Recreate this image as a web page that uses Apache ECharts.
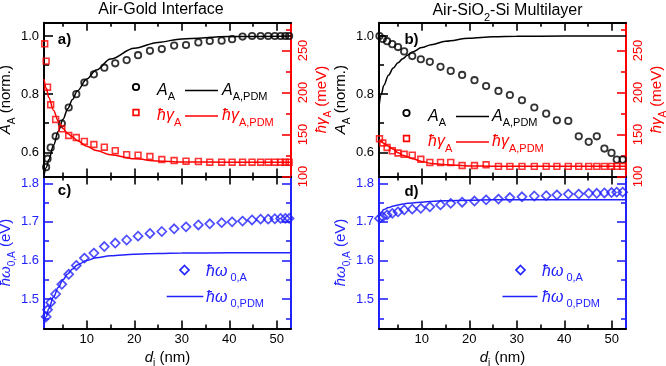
<!DOCTYPE html>
<html><head><meta charset="utf-8">
<script src="https://cdn.jsdelivr.net/npm/echarts@6/dist/echarts.min.js"></script>
<style>html,body{margin:0;padding:0;background:#fff}#c{width:666px;height:366px}</style>
</head><body><div id="c"></div>
<script>
const FONT = '"Liberation Sans", Arial, Helvetica, sans-serif';
const BLACK = '#000000', RED = '#ff0000', BLUE = '#2222ff';

// ---------- data ----------
// Air-Gold interface (panels a, c)
const dGold = [1.15, 1.45, 1.75, 2.4, 3.45, 4.75, 6.2, 7.8, 9.5, 11.5, 13.7, 16.0, 18.4, 20.8, 23.3, 25.8, 28.4, 30.9, 33.5, 35.9, 38.4, 40.6, 42.8, 44.8, 46.6, 48.2, 49.6, 50.8, 51.8, 52.6];
const ampGold = [null, 0.549, 0.578, 0.616, 0.655, 0.699, 0.754, 0.800, 0.840, 0.868, 0.891, 0.906, 0.917, 0.934, 0.949, 0.955, 0.967, 0.969, 0.978, 0.983, 0.984, 0.989, 0.998, 1.0, 1.0, 1.0, 1.0, 1.0, 1.0, 1.0];
const gammaGold = [258, 237.3, 206.3, 185.4, 167.9, 156.8, 148.8, 146.4, 141.7, 138.1, 134.9, 130.7, 126, 125.4, 123.8, 120.2, 119, 118.2, 117.9, 117, 117, 117, 117, 117, 117, 117, 117, 117, 117, 117];
const omegaGold = [null, 1.454, 1.472, 1.491, 1.513, 1.538, 1.564, 1.587, 1.606, 1.619, 1.636, 1.645, 1.653, 1.663, 1.670, 1.675, 1.682, 1.687, 1.692, 1.695, 1.698, 1.700, 1.702, 1.705, 1.707, 1.707, 1.708, 1.709, 1.709, 1.709];

// Air-SiO2-Si multilayer (panels b, d)
const dSi = [1.1, 1.8, 2.7, 3.8, 5.0, 6.3, 8.0, 9.8, 11.7, 13.95, 16.1, 18.5, 21.1, 23.55, 26.15, 28.55, 31.1, 33.7, 36.2, 38.45, 40.85, 43.05, 45.15, 46.85, 48.45, 49.95, 51.05, 52.3];
const ampSi = [1.0, 0.99, 0.982, 0.972, 0.962, 0.947, 0.931, 0.92, 0.911, 0.894, 0.88, 0.866, 0.848, 0.828, 0.811, 0.797, 0.779, 0.754, 0.733, 0.71, 0.708, 0.655, 0.636, 0.655, 0.613, 0.598, 0.575, 0.575];
const gammaSi = [144.9, 139.9, 134.5, 130.6, 128, 126.5, 125.4, 120.5, 116.7, 116.7, 116.7, 113.1, 113.1, 113.9, 112.1, 112.1, 112.1, 112.1, 112.1, 112.1, 112.1, 112.1, 112.1, 112.1, 112.1, 112.1, 112.1, 112.1];
const omegaSi = [1.709, 1.713, 1.718, 1.722, 1.726, 1.731, 1.733, 1.735, 1.739, 1.744, 1.748, 1.751, 1.754, 1.757, 1.759, 1.763, 1.765, 1.767, 1.768, 1.770, 1.772, 1.772, 1.774, 1.774, 1.775, 1.776, 1.777, 1.777];

// PDM model curves
const dPdm = [1, 1.5, 2, 3, 4, 5, 6, 7, 8, 10, 12, 15, 20, 25, 30, 40, 53];
const ampPdmGold = [0.52, 0.548, 0.574, 0.624, 0.672, 0.714, 0.75, 0.782, 0.811, 0.852, 0.883, 0.921, 0.958, 0.978, 0.99, 0.998, 1.0];
const gammaPdmGold = [216, 205, 194, 179, 166, 157, 151, 147, 143, 136, 131, 126, 121, 118.5, 117.3, 117, 117];
const omegaPdmGold = [1.43, 1.455, 1.475, 1.505, 1.53, 1.55, 1.565, 1.578, 1.588, 1.60, 1.607, 1.612, 1.616, 1.618, 1.619, 1.62, 1.62];
const ampPdmSi = [0.758, 0.80, 0.83, 0.865, 0.89, 0.908, 0.922, 0.934, 0.945, 0.96, 0.97, 0.982, 0.992, 0.997, 0.999, 1.0, 1.0];
const gammaPdmSi = [143.5, 141.5, 139.5, 136, 132.3, 128.3, 125.3, 123.5, 121.2, 118, 115.6, 114, 112.6, 112.2, 112.1, 112.1, 112.1];
const omegaPdmSi = [1.716, 1.725, 1.732, 1.737, 1.741, 1.744, 1.746, 1.748, 1.749, 1.751, 1.753, 1.755, 1.756, 1.757, 1.757, 1.757, 1.757];

// ticks
const xTicksMajor = [10, 20, 30, 40, 50];
const xTicksMinor = [5, 15, 25, 35, 45];
const ampTicksMajor = [0.6, 0.8, 1.0];
const ampTicksMinor = [0.7, 0.9];
const gammaTicksMajor = [100, 150, 200, 250];
const gammaTicksMinor = [125, 175, 225, 275];
const omegaTicksMajor = [1.5, 1.6, 1.7, 1.8];
const omegaTicksMinor = [1.45, 1.55, 1.65, 1.75];

const titles = ['Air-Gold Interface', '{n|Air-SiO}{s|2}{n|-Si Multilayer}'];
const panelLabels = ['a)', 'b)', 'c)', 'd)'];

// ---------- helpers ----------
function rich(size, color) {
  const sub = Math.round(size * 0.68);
  const pad = Math.round(size * 0.8);
  return {
    n: { fontSize: size, lineHeight: size, color: color, fontFamily: FONT },
    i: { fontSize: size, lineHeight: size, color: color, fontStyle: 'italic', fontFamily: FONT },
    s: { fontSize: sub, lineHeight: sub, padding: [pad, 0, 0, 0], color: color, fontFamily: FONT }
  };
}
const xAxes = [], yAxes = [];
function addX(o) { xAxes.push(o); return xAxes.length - 1; }
function addY(o) { yAxes.push(o); return yAxes.length - 1; }

function xSet(g, pos, withLabels) {
  const idx = addX({
    type: 'value', gridIndex: g, position: pos, min: 1, max: 53,
    axisLine: { show: true, onZero: false, lineStyle: { color: BLACK, width: 2 } },
    axisTick: { show: true, inside: true, length: 8, customValues: xTicksMajor, lineStyle: { color: BLACK, width: 1.6 } },
    axisLabel: { show: withLabels, customValues: xTicksMajor, margin: 4, color: BLACK, fontSize: 13, fontFamily: FONT },
    splitLine: { show: false },
    name: withLabels ? '{i|d}{s|j}{n| (nm)}' : '',
    nameLocation: 'middle', nameGap: 12,
    nameTextStyle: { rich: rich(15, BLACK) }
  });
  addX({
    type: 'value', gridIndex: g, position: pos, min: 1, max: 53,
    axisLine: { show: false, onZero: false },
    axisTick: { show: true, inside: true, length: 4, customValues: xTicksMinor, lineStyle: { color: BLACK, width: 1.6 } },
    axisLabel: { show: false }, splitLine: { show: false }
  });
  return idx;
}
function ySet(g, pos, min, max, major, minor, color, withLabels, fmt, name, nameGap, rotate, labelMargin) {
  const idx = addY({
    type: 'value', gridIndex: g, position: pos, min: min, max: max,
    axisLine: { show: true, onZero: false, lineStyle: { color: color, width: 2 } },
    axisTick: { show: true, inside: true, length: 9, customValues: major, lineStyle: { color: color, width: 1.6 } },
    axisLabel: { show: withLabels, customValues: major, formatter: fmt, rotate: rotate || 0, margin: labelMargin || 5, color: color, fontSize: 13, fontFamily: FONT },
    splitLine: { show: false },
    name: name || '', nameLocation: 'middle', nameGap: nameGap || 20, nameRotate: 90,
    nameTextStyle: { rich: rich(15, color) }
  });
  addY({
    type: 'value', gridIndex: g, position: pos, min: min, max: max,
    axisLine: { show: false, onZero: false },
    axisTick: { show: true, inside: true, length: 5, customValues: minor, lineStyle: { color: color, width: 1.6 } },
    axisLabel: { show: false }, splitLine: { show: false }
  });
  return idx;
}
const f1 = v => v.toFixed(1);
const f0 = v => String(Math.round(v));
function pairs(xs, ys) { return xs.map((x, i) => [x, ys[i]]).filter(p => p[1] != null); }

const AMP = [0.5168, 1.0457], GAM = [100, 283.1], OME = [1.4235, 1.8176];
const ampName = '{i|A}{s|A}{n| (norm.)}';
const gamName = '{i|ħγ}{s|A}{n| (meV)}';
const omeName = '{i|ħω}{s|0,A}{n| (eV)}';

const grids = [
  { left: 44, top: 22.7, width: 247, height: 153.8 },
  { left: 44, top: 176.5, width: 247, height: 152 },
  { left: 379, top: 22.7, width: 247, height: 153.8 },
  { left: 379, top: 176.5, width: 247, height: 152 }
].map(g => Object.assign({ containLabel: false, outerBoundsMode: 'none' }, g));

const series = [];
const sets = [
  { top: 0, bot: 1, d: dGold, amp: ampGold, gam: gammaGold, ome: omegaGold, aP: ampPdmGold, gP: gammaPdmGold, oP: omegaPdmGold, ln: 21, rn: 16 },
  { top: 2, bot: 3, d: dSi, amp: ampSi, gam: gammaSi, ome: omegaSi, aP: ampPdmSi, gP: gammaPdmSi, oP: omegaPdmSi, ln: 22, rn: 17 }
];
sets.forEach((s, k) => {
  // top panel
  const xb = xSet(s.top, 'bottom', false);
  xSet(s.top, 'top', false);
  const yl = ySet(s.top, 'left', AMP[0], AMP[1], ampTicksMajor, ampTicksMinor, BLACK, true, f1, ampName, s.ln, 0, 5);
  const yr = ySet(s.top, 'right', GAM[0], GAM[1], gammaTicksMajor, gammaTicksMinor, RED, true, f0, gamName, s.rn, 90, 6);
  series.push({ type: 'line', name: 'A_A,PDM ' + k, xAxisIndex: xb, yAxisIndex: yl, data: pairs(dPdm, s.aP), symbol: 'none', smooth: 0.35, smoothMonotone: 'x', lineStyle: { color: BLACK, width: 1.5 }, z: 3 });
  series.push({ type: 'line', name: 'gamma_PDM ' + k, xAxisIndex: xb, yAxisIndex: yr, data: pairs(dPdm, s.gP), symbol: 'none', smooth: 0.35, smoothMonotone: 'x', lineStyle: { color: RED, width: 1.5 }, z: 3 });
  series.push({ type: 'scatter', name: 'A_A ' + k, xAxisIndex: xb, yAxisIndex: yl, data: pairs(s.d, s.amp), symbol: 'circle', symbolSize: 6.4, itemStyle: { color: 'rgba(0,0,0,0)', borderColor: BLACK, borderWidth: 1.8 }, z: 4 });
  series.push({ type: 'scatter', name: 'gamma_A ' + k, xAxisIndex: xb, yAxisIndex: yr, data: pairs(s.d, s.gam), symbol: 'rect', symbolSize: 5.8, itemStyle: { color: 'rgba(0,0,0,0)', borderColor: RED, borderWidth: 1.6 }, z: 4 });
  // bottom panel
  const xb2 = xSet(s.bot, 'bottom', true);
  xSet(s.bot, 'top', false);
  const yl2 = ySet(s.bot, 'left', OME[0], OME[1], omegaTicksMajor, omegaTicksMinor, BLUE, true, f1, omeName, s.ln, 0, 5);
  ySet(s.bot, 'right', OME[0], OME[1], omegaTicksMajor, omegaTicksMinor, BLUE, false, f1, '', 20, 0, 5);
  series.push({ type: 'line', name: 'omega_PDM ' + k, xAxisIndex: xb2, yAxisIndex: yl2, data: pairs(dPdm, s.oP), symbol: 'none', smooth: 0.35, smoothMonotone: 'x', lineStyle: { color: BLUE, width: 1.5 }, z: 3 });
  series.push({ type: 'scatter', name: 'omega_A ' + k, xAxisIndex: xb2, yAxisIndex: yl2, data: pairs(s.d, s.ome), symbol: 'diamond', symbolSize: 9, itemStyle: { color: 'rgba(0,0,0,0)', borderColor: BLUE, borderWidth: 1.7 }, z: 4 });
});

// ---------- graphic: titles, panel labels, legends ----------
const G = [];
function txt(x, y, text, size, color, opts) {
  G.push(Object.assign({ type: 'text', x: x, y: y, z: 100, silent: true,
    style: Object.assign({ text: text, fill: color, font: size + 'px ' + FONT, align: 'left', verticalAlign: 'middle', rich: rich(size, color) }, (opts || {}))
  }));
}
txt(161, 9.5, '{n|' + titles[0] + '}', 16, BLACK, { align: 'center' });
txt(507.5, 11, titles[1], 16, BLACK, { align: 'center' });
[[64.5, 39.5], [411.5, 39.5], [64.5, 191], [411.5, 192]].forEach((p, i) => {
  G.push({ type: 'text', x: p[0], y: p[1], z: 100, style: { text: panelLabels[i], fill: BLACK, font: 'bold 15px ' + FONT, align: 'center', verticalAlign: 'middle' } });
});
function circ(cx, cy, color) { G.push({ type: 'circle', z: 100, shape: { cx: cx, cy: cy, r: 3.2 }, style: { fill: 'none', stroke: color, lineWidth: 1.8 } }); }
function sq(cx, cy, color) { G.push({ type: 'rect', z: 100, shape: { x: cx - 2.9, y: cy - 2.9, width: 5.8, height: 5.8 }, style: { fill: 'none', stroke: color, lineWidth: 1.6 } }); }
function dia(cx, cy, color) { G.push({ type: 'polygon', z: 100, shape: { points: [[cx, cy - 4.5], [cx + 4.5, cy], [cx, cy + 4.5], [cx - 4.5, cy]] }, style: { fill: 'none', stroke: color, lineWidth: 1.7 } }); }
function seg(x1, x2, y, color) { G.push({ type: 'line', z: 100, shape: { x1: x1, y1: y, x2: x2, y2: y }, style: { stroke: color, lineWidth: 1.5 } }); }

// top legends
[[136, 157, 185, 218, 222, 90.5, 116], [406.5, 428, 456, 489, 492, 116.5, 142]].forEach(L => {
  const [mx, t1, l1, l2, t2, r1, r2] = L;
  circ(mx, r1 - 3.5, BLACK);
  txt(t1, r1, '{i|A}{s|A}', 16, BLACK);
  seg(l1, l2, r1, BLACK);
  txt(t2, r1, '{i|A}{s|A,PDM}', 16, BLACK);
  sq(mx, r2 - 3.5, RED);
  txt(t1, r2, '{i|ħγ}{s|A}', 16, RED);
  seg(l1, l2, r2, RED);
  txt(t2, r2, '{i|ħγ}{s|A,PDM}', 16, RED);
});
// bottom legends
[[184.5, 206, 166.7, 203.3], [520.5, 542, 502.5, 537.5]].forEach(L => {
  const [mx, tx, l1, l2] = L;
  dia(mx, 270, BLUE);
  txt(tx, 271.5, '{i|ħω}{s| 0,A}', 16, BLUE);
  seg(l1, l2, 296.5, BLUE);
  txt(tx, 297.5, '{i|ħω}{s| 0,PDM}', 16, BLUE);
});

const chart = echarts.init(document.getElementById('c'), null, { renderer: 'canvas' });
chart.setOption({
  animation: false,
  backgroundColor: '#ffffff',
  grid: grids,
  xAxis: xAxes,
  yAxis: yAxes,
  series: series,
  graphic: G
});
</script>
</body></html>
